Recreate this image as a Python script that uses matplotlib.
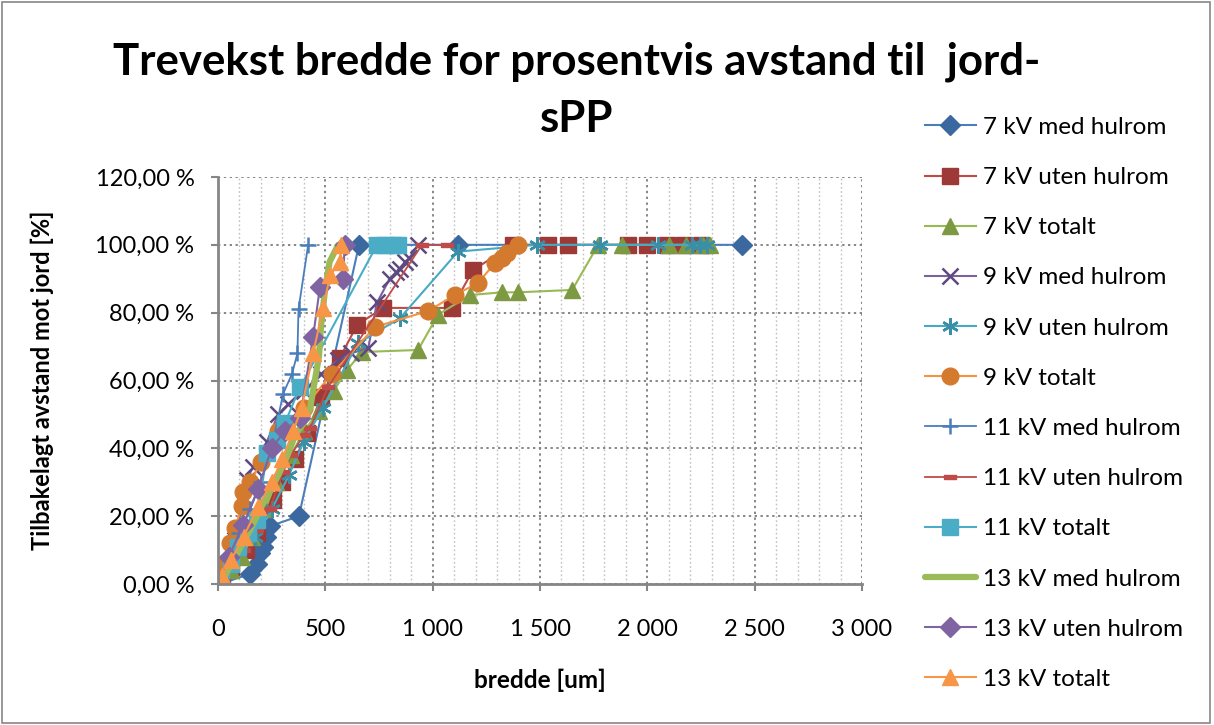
import numpy as np
import matplotlib
matplotlib.use("Agg")
import matplotlib.pyplot as plt
from matplotlib.ticker import FuncFormatter, MultipleLocator
from matplotlib.patches import Rectangle

plt.rcParams['font.family'] = ['Lato', 'DejaVu Sans']

# data: x = bredde [um], y = percent
kv7_med_x = [10, 150, 180, 195, 210, 225, 240, 377, 657, 1118, 2442]
kv7_med_y = [0, 3, 6, 9, 11, 14, 17, 20, 100, 100, 100]

kv7_uten_x = [20, 60, 130, 180, 256, 300, 360, 414, 480, 568, 648, 769, 1090, 1188, 1375, 1538, 1631, 1911, 1999, 2090, 2170, 2250]
kv7_uten_y = [2, 5, 10, 15, 24.7, 30, 37, 44.5, 55, 66.7, 76.4, 81.4, 81.4, 92.6, 100, 100, 100, 100, 100, 100, 100, 100]

kv7_tot_x = [20, 60, 110, 160, 220, 270, 340, 400, 470, 540, 600, 671, 932, 1025, 1174, 1323, 1398, 1650, 1771, 1882, 2100, 2180, 2260, 2290]
kv7_tot_y = [1, 4, 8, 14, 22, 30, 38, 45, 51, 57, 63, 68.4, 69, 79.4, 85.2, 86, 86, 86.7, 100, 100, 100, 100, 100, 100]

kv9_med_x = [10, 40, 80, 135, 163, 228, 280, 326, 400, 480, 560, 620, 700, 741, 800, 830, 850, 870, 890, 932]
kv9_med_y = [1, 6, 13, 30.7, 34.5, 42, 50, 53, 57, 62, 66, 68, 69.6, 83, 90, 92, 93, 95, 96, 100]

kv9_uten_x = [10, 33, 90, 172, 250, 330, 400, 489, 652, 848, 1118, 1487, 1780, 2050, 2209, 2245, 2280]
kv9_uten_y = [1, 6, 10, 14, 22, 32, 42, 52, 71, 78.4, 98, 100, 100, 100, 100, 100, 100]

kv9_tot_x = [10, 25, 56, 80, 110, 117, 150, 200, 280, 400, 531, 732, 979, 1104, 1212, 1291, 1323, 1346, 1398]
kv9_tot_y = [1, 5.6, 12, 16.5, 23, 27, 30, 36, 45, 52, 62, 75.8, 80.5, 85.2, 88.8, 94.7, 96, 97.6, 100]

kv11_med_x = [10, 50, 100, 150, 200, 250, 303, 345, 370, 375, 420]
kv11_med_y = [1, 8, 15, 22, 30, 40, 56, 62, 68, 81, 100]

kv11_uten_x = [15, 60, 120, 180, 240, 303, 340, 400, 430, 512, 950, 1067]
kv11_uten_y = [1, 5, 10, 16, 22, 33, 38, 44, 46, 58, 100, 100]

kv11_tot_x = [15, 60, 93, 140, 182, 228, 275, 312, 382, 741, 778, 815, 840]
kv11_tot_y = [1, 6, 11, 15, 19, 38.6, 42.5, 47.5, 58, 100, 100, 100, 100]

kv13_med_x = [20, 80, 150, 220, 280, 321, 360, 400, 430, 443, 470, 480, 500, 520, 560, 600]
kv13_med_y = [1, 8, 16, 25, 32, 37.5, 44, 47.5, 52, 57, 67, 76, 87.6, 95, 100, 100]

kv13_uten_x = [10, 50, 117, 186, 250, 310, 382, 443, 475, 583, 590]
kv13_uten_y = [1, 8, 17.4, 28, 40, 45, 49, 72.9, 87.6, 90, 100]

kv13_tot_x = [20, 60, 120, 186, 250, 300, 350, 390, 443, 490, 522, 568, 575]
kv13_tot_y = [2.5, 7, 14, 22.7, 30, 37, 45, 52, 68, 81.4, 91, 95, 100]

labels = ["7 kV med hulrom", "7 kV uten hulrom", "7 kV totalt",
          "9 kV med hulrom", "9 kV uten hulrom", "9 kV totalt",
          "11 kV med hulrom", "11 kV uten hulrom", "11 kV totalt",
          "13 kV med hulrom", "13 kV uten hulrom", "13 kV totalt"]

dash = [(-1, -0.35), (1, -0.35), (1, 0.35), (-1, 0.35), (-1, -0.35)]

series = [
    (kv7_med_x, kv7_med_y, dict(color='#4A7EBB', marker='D', ms=10, mfc='#3C68A0', mec='#3C68A0', lw=1.5)),
    (kv7_uten_x, kv7_uten_y, dict(color='#BE4B48', marker='s', ms=11, mfc='#9D3A37', mec='#9D3A37', lw=1.5)),
    (kv7_tot_x, kv7_tot_y, dict(color='#98B954', marker='^', ms=12, mfc='#7D9A43', mec='#7D9A43', lw=1.5)),
    (kv9_med_x, kv9_med_y, dict(color='#7D60A0', marker='x', ms=11, mec='#5F4A80', mew=1.8, lw=1.5)),
    (kv9_uten_x, kv9_uten_y, dict(color='#46AAC5', marker=(6, 2, 0), ms=12, mec='#3A8FA6', mew=1.8, lw=1.5)),
    (kv9_tot_x, kv9_tot_y, dict(color='#F69240', marker='o', ms=12, mfc='#D47A2E', mec='#D47A2E', lw=1.5)),
    (kv11_med_x, kv11_med_y, dict(color='#4A7EBB', marker='+', ms=12, mec='#4A7EBB', mew=1.8, lw=1.3)),
    (kv11_uten_x, kv11_uten_y, dict(color='#BE4B48', marker=dash, ms=8, mfc='#BE4B48', mec='#BE4B48', lw=1.3)),
    (kv11_tot_x, kv11_tot_y, dict(color='#4BACC6', marker='s', ms=11, mfc='#4BACC6', mec='#4BACC6', lw=1.5)),
    (kv13_med_x, kv13_med_y, dict(color='#9BBB59', lw=4.5, solid_capstyle='round')),
    (kv13_uten_x, kv13_uten_y, dict(color='#8064A2', marker='D', ms=10, mfc='#8064A2', mec='#8064A2', lw=1.5)),
    (kv13_tot_x, kv13_tot_y, dict(color='#F79646', marker='^', ms=12, mfc='#F79646', mec='#F79646', lw=1.5)),
]

fig = plt.figure(figsize=(12.14, 7.25), dpi=100)
ax = fig.add_axes([218 / 1214, 1 - 584 / 725, (862 - 218) / 1214, (584 - 177) / 725])

for (xs, ys, kw), lab in zip(series, labels):
    ax.plot(xs, ys, label=lab, **kw)

ax.set_xlim(0, 3000)
ax.set_ylim(0, 120)
ax.xaxis.set_major_locator(MultipleLocator(500))
ax.xaxis.set_minor_locator(MultipleLocator(100))
ax.yaxis.set_major_locator(MultipleLocator(20))
ax.xaxis.set_major_formatter(FuncFormatter(lambda v, p: f"{int(v):,}".replace(",", " ")))
ax.yaxis.set_major_formatter(FuncFormatter(lambda v, p: f"{v:.2f}".replace(".", ",") + " %"))

ax.grid(which='major', axis='both', color='#868686', linestyle=(0, (1.2, 1.8)), linewidth=1.4)
ax.grid(which='minor', axis='x', color='#C0C0C0', linestyle=(0, (1.2, 1.8)), linewidth=1.0)
ax.set_axisbelow(True)

for s in ['top', 'right']:
    ax.spines[s].set_visible(False)
for s in ['left', 'bottom']:
    ax.spines[s].set_color('#868686')
    ax.spines[s].set_linewidth(2)
ax.tick_params(which='major', labelsize=17, color='#868686', length=5, width=1.5)
ax.tick_params(axis='x', which='major', pad=20)
ax.tick_params(axis='y', which='major', pad=12)
ax.tick_params(which='minor', length=0)

ax.set_xlabel("bredde [um]", fontsize=17.5, fontweight='bold', labelpad=21)
ax.set_ylabel("Tilbakelagt avstand mot jord [%]", fontsize=17, fontweight='bold', labelpad=30)

# title in two separate lines
fig.text(577 / 1214, 1 - 62 / 725, "Trevekst bredde for prosentvis avstand til  jord-",
         ha='center', va='center', fontsize=31.5, fontweight='bold')
fig.text(577 / 1214, 1 - 119 / 725, "sPP",
         ha='center', va='center', fontsize=31.5, fontweight='bold')

fig.legend(loc='upper left', bbox_to_anchor=(903 / 1214, 1 - 95 / 725), frameon=False,
           fontsize=17.5, labelspacing=1.2, handlelength=2.1, handletextpad=0.3)

fig.patches.append(Rectangle((0.002, 0.003), 0.995, 0.994, transform=fig.transFigure,
                             fill=False, edgecolor='#868686', linewidth=1.2))

fig.savefig("out.png", dpi=100)
